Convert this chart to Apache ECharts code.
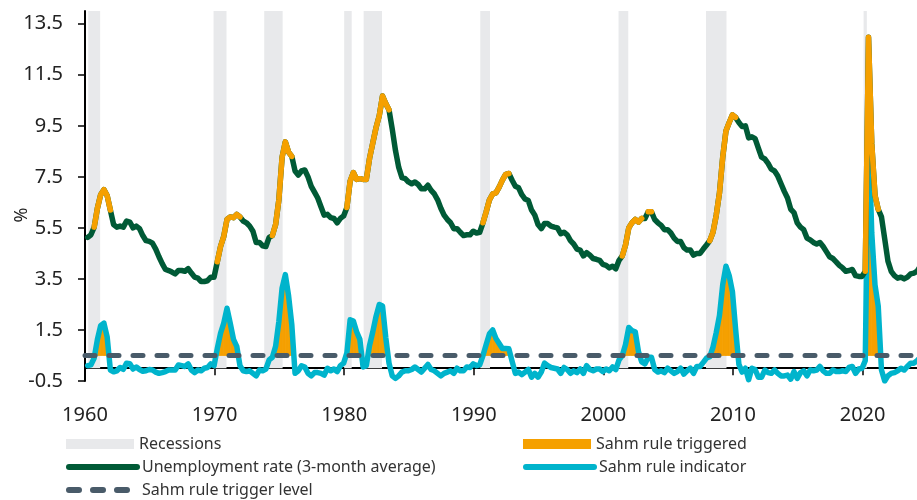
<!DOCTYPE html>
<html>
<head>
<meta charset="utf-8">
<script src="https://cdn.jsdelivr.net/npm/echarts@6/dist/echarts.min.js"></script>
<style>
  html, body { margin: 0; padding: 0; background: #fff; }
  #chart { width: 917px; height: 500px; }
</style>
</head>
<body>
<div id="chart"></div>
<script>
// quarterly values, first point = 1960Q1 (3-month average at quarter end)
const startYear = 1960;

// unemployment rate, 3-month average (%)
const unemployment = [
  5.13, 5.23, 5.53, 6.27,   // 1960
  6.80, 7.00, 6.77, 6.20,   // 1961
  5.63, 5.53, 5.57, 5.53,
  5.77, 5.73, 5.50, 5.57,
  5.47, 5.20, 5.00, 4.97,
  4.90, 4.67, 4.37, 4.10,   // 1965
  3.87, 3.83, 3.77, 3.70,
  3.83, 3.83, 3.80, 3.90,
  3.73, 3.57, 3.53, 3.40,
  3.40, 3.43, 3.57, 3.57,
  4.17, 4.77, 5.17, 5.83,   // 1970
  5.93, 5.90, 6.03, 5.93,
  5.77, 5.70, 5.57, 5.37,
  4.93, 4.93, 4.80, 4.77,
  5.13, 5.20, 5.63, 6.60,
  8.27, 8.87, 8.47, 8.30,   // 1975
  7.73, 7.57, 7.73, 7.77,
  7.50, 7.13, 6.90, 6.67,
  6.33, 6.00, 6.03, 5.90,
  5.87, 5.70, 5.87, 5.97,
  6.30, 7.33, 7.67, 7.40,   // 1980
  7.43, 7.40, 7.40, 8.23,
  8.83, 9.43, 9.90, 10.67,
  10.37, 10.13, 9.37, 8.53,
  7.87, 7.47, 7.43, 7.30,
  7.23, 7.30, 7.20, 7.03,   // 1985
  7.03, 7.17, 6.97, 6.83,
  6.60, 6.27, 6.00, 5.83,
  5.70, 5.47, 5.47, 5.33,
  5.20, 5.23, 5.23, 5.37,
  5.30, 5.33, 5.70, 6.13,   // 1990
  6.60, 6.83, 6.87, 7.10,
  7.37, 7.60, 7.63, 7.37,
  7.13, 7.07, 6.80, 6.63,
  6.57, 6.20, 6.00, 5.63,
  5.47, 5.67, 5.67, 5.57,   // 1995
  5.53, 5.50, 5.27, 5.33,
  5.23, 5.00, 4.87, 4.67,
  4.63, 4.40, 4.53, 4.43,
  4.30, 4.27, 4.23, 4.07,
  4.03, 3.93, 4.00, 3.90,   // 2000
  4.23, 4.40, 4.83, 5.50,
  5.70, 5.83, 5.73, 5.87,
  5.87, 6.13, 6.13, 5.83,
  5.70, 5.60, 5.43, 5.43,
  5.30, 5.10, 4.97, 4.97,   // 2005
  4.73, 4.63, 4.63, 4.43,
  4.50, 4.50, 4.67, 4.83,
  5.00, 5.33, 6.00, 6.87,
  8.27, 9.30, 9.63, 9.93,
  9.83, 9.63, 9.47, 9.50,   // 2010
  9.03, 9.07, 9.00, 8.63,
  8.27, 8.20, 8.03, 7.80,
  7.73, 7.53, 7.23, 6.93,
  6.67, 6.23, 6.10, 5.70,
  5.53, 5.43, 5.10, 5.03,   // 2015
  4.93, 4.87, 4.93, 4.77,
  4.57, 4.37, 4.30, 4.17,
  4.03, 3.93, 3.80, 3.83,
  3.87, 3.63, 3.60, 3.60,
  3.80, 12.97, 8.80, 6.77,  // 2020
  6.23, 5.93, 5.07, 4.20,
  3.80, 3.63, 3.53, 3.57,
  3.50, 3.57, 3.70, 3.73,
  3.80, 4.00                // 2024
];

// Sahm rule indicator (pp)
const sahm = [
  0.10, 0.13, 0.40, 1.13,   // 1960
  1.67, 1.77, 1.23, -0.07,
  -0.14, -0.10, 0.03, -0.04,
  0.20, 0.18, -0.03, 0.05,
  -0.05, -0.12, -0.10, -0.05,
  -0.07, -0.15, -0.20, -0.17, // 1965
  -0.13, -0.07, -0.07, -0.07,
  0.13, 0.10, 0.07, 0.17,
  -0.07, -0.17, -0.07, -0.10,
  0.00, 0.03, 0.17, 0.10,
  0.77, 1.37, 1.77, 2.35,   // 1970
  1.76, 1.13, 0.86, 0.10,
  -0.10, -0.13, -0.10, -0.20,
  -0.30, -0.07, -0.10, -0.03,
  0.33, 0.43, 0.86, 1.83,
  3.14, 3.67, 2.84, 1.70,   // 1975
  -0.20, -0.10, 0.10, 0.05,
  -0.20, -0.30, -0.17, -0.17,
  -0.20, -0.27, 0.00, -0.10,
  -0.03, -0.13, 0.10, 0.20,
  0.60, 1.90, 1.85, 1.43,   // 1980
  1.13, 0.05, 0.10, 0.90,
  1.43, 2.03, 2.50, 2.44,
  1.20, 0.20, -0.30, -0.40,
  -0.30, -0.15, -0.10, -0.10,
  -0.05, 0.05, -0.05, -0.15, // 1985
  0.00, 0.15, -0.05, -0.10,
  -0.20, -0.30, -0.20, -0.15,
  -0.10, -0.20, 0.00, -0.10,
  -0.10, 0.05, 0.03, 0.17,
  0.10, 0.13, 0.50, 0.93,   // 1990
  1.35, 1.50, 1.17, 0.97,
  0.77, 0.77, 0.76, 0.27,
  -0.20, -0.15, -0.25, -0.15,
  -0.05, -0.35, -0.20, -0.35,
  -0.15, 0.20, 0.10, 0.03,  // 1995
  0.00, -0.03, -0.20, 0.03,
  -0.05, -0.20, -0.10, -0.17,
  -0.03, -0.20, 0.10, -0.05,
  -0.10, -0.03, -0.03, -0.13,
  -0.03, -0.10, 0.05, -0.05, // 2000
  0.33, 0.50, 0.93, 1.60,
  1.47, 1.43, 0.65, 0.25,
  0.17, 0.43, 0.43, -0.05,
  -0.15, -0.10, -0.17, 0.00,
  -0.10, -0.20, -0.13, 0.00, // 2005
  -0.23, -0.10, 0.00, -0.20,
  0.07, 0.07, 0.23, 0.40,
  0.45, 0.83, 1.40, 2.07,
  3.27, 4.00, 3.63, 3.00,
  1.50, 0.15, -0.15, 0.00,  // 2010
  -0.45, 0.00, -0.05, -0.35,
  -0.35, -0.07, -0.17, -0.20,
  -0.07, -0.20, -0.30, -0.30,
  -0.27, -0.43, -0.13, -0.40,
  -0.17, -0.10, -0.30, -0.07, // 2015
  -0.10, -0.07, 0.07, -0.10,
  -0.20, -0.20, -0.07, -0.13,
  -0.13, -0.10, -0.13, 0.03,
  0.07, -0.20, -0.03, 0.00,
  0.30, 9.47, 5.30, 3.27,   // 2020
  2.43, -0.07, -0.50, -0.30,
  -0.20, -0.17, -0.10, 0.00,
  -0.07, 0.07, 0.20, 0.20,
  0.30, 0.43                // 2024
];

const triggerLevel = 0.5;

// NBER recessions, decimal years
const recessions = [
  [1960.25, 1961.17], [1969.92, 1970.92], [1973.83, 1975.25],
  [1980.0, 1980.58], [1981.5, 1982.92], [1990.5, 1991.25],
  [2001.17, 2001.92], [2007.92, 2009.5], [2020.08, 2020.33]
];

// quarters where the unemployment line is drawn orange
const triggeredPeriods = [
  ['1960Q3', '1961Q4'], ['1970Q1', '1971Q4'], ['1974Q2', '1975Q4'],
  ['1980Q1', '1981Q2'], ['1981Q3', '1983Q2'], ['1990Q3', '1992Q3'],
  ['2001Q2', '2002Q4'], ['2003Q2', '2003Q3'], ['2008Q1', '2010Q1'],
  ['2020Q1', '2021Q1']
];

const xTicks = [1960, 1970, 1980, 1990, 2000, 2010, 2020];
const yTicks = [-0.5, 1.5, 3.5, 5.5, 7.5, 9.5, 11.5, 13.5];
const xMin = 1960, xMax = 2024.2;

const GREEN = '#005A36', CYAN = '#00B4CC', ORANGE = '#F5A000',
      SLATE = '#495B69', BAND = '#E8E9EB';
const FONT = 'Noto Sans';

const quarterTime = i => startYear + Math.floor(i / 4) + ((i % 4) * 3 + 2.5) / 12;
const qIndex = s => (parseInt(s.slice(0, 4)) - startYear) * 4 + parseInt(s.slice(5)) - 1;

const xs = unemployment.map((_, i) => quarterTime(i));
const urData = unemployment.map((v, i) => [xs[i], v]);
const sahmData = sahm.map((v, i) => [xs[i], v]);

const trigRate = [];
triggeredPeriods.forEach(([a, b]) => {
  for (let i = qIndex(a); i <= qIndex(b); i++) trigRate.push([xs[i], unemployment[i]]);
  trigRate.push([xs[qIndex(b)], '-']);
});

// orange fill between the indicator and the trigger level
function renderTriggered(params, api) {
  const i = params.dataIndex;
  if (i >= sahm.length - 1) return;
  const L = triggerLevel, a = sahm[i], b = sahm[i + 1];
  const x0 = xs[i], x1 = xs[i + 1];
  let pts;
  if (a > L && b > L) {
    pts = [[x0, a], [x1, b], [x1, L], [x0, L]];
  } else if (a > L) {
    const xc = x0 + (a - L) / (a - b) * (x1 - x0);
    pts = [[x0, a], [xc, L], [x0, L]];
  } else if (b > L) {
    const xc = x0 + (L - a) / (b - a) * (x1 - x0);
    pts = [[xc, L], [x1, b], [x1, L]];
  } else {
    return;
  }
  return {
    type: 'polygon',
    shape: { points: pts.map(p => api.coord(p)) },
    style: { fill: ORANGE, stroke: ORANGE, lineWidth: 0.8 }
  };
}

const chart = echarts.init(document.getElementById('chart'), null, { renderer: 'canvas' });

const legendText = { fontFamily: FONT, fontSize: 16, color: '#333', lineHeight: 16 };
const legendRow = (left, top, name, isRect) => ({
  orient: 'horizontal', left: left, top: top, padding: 0, itemWidth: 68, itemHeight: 10,
  selectedMode: false, textStyle: legendText,
  lineStyle: { width: 6 },
  itemStyle: isRect ? {} : { opacity: 0 },
  data: [isRect ? { name: name, icon: 'rect' } : { name: name }]
});

chart.setOption({
  animation: false,
  backgroundColor: '#fff',
  grid: { left: 85, right: 0, top: 11, bottom: 119, containLabel: false },
  legend: [
    legendRow(66, 436, 'Recessions', true),
    legendRow(66, 459, 'Unemployment rate (3-month average)', false),
    legendRow(66, 482, 'Sahm rule trigger level', false),
    legendRow(523, 436, 'Sahm rule triggered', true),
    legendRow(523, 459, 'Sahm rule indicator', false)
  ],
  graphic: [{
    type: 'text', x: 22, y: 215, rotation: Math.PI / 2,
    style: { text: '%', font: '18px "Noto Sans"', fill: '#222', align: 'center', verticalAlign: 'middle' }
  }],
  xAxis: {
    type: 'value', min: xMin, max: xMax,
    axisLine: { onZero: true, lineStyle: { color: '#000', width: 2 } },
    axisTick: { show: true, customValues: xTicks, length: 7, lineStyle: { color: '#000', width: 1.5 } },
    axisLabel: {
      customValues: xTicks, margin: 24, fontSize: 20, fontFamily: FONT, color: '#222',
      formatter: v => String(v)
    },
    splitLine: { show: false }
  },
  yAxis: {
    type: 'value', min: -0.5, max: 14,
    axisLine: { show: true, onZero: false, lineStyle: { color: '#000', width: 2 } },
    axisTick: { show: true, customValues: yTicks, length: 7, lineStyle: { color: '#000', width: 1.5 } },
    axisLabel: { customValues: yTicks, margin: 22, fontSize: 20, fontFamily: FONT, color: '#222' },
    splitLine: { show: false }
  },
  series: [
    {
      name: 'Recessions', type: 'line', data: [], z: 1, silent: true,
      itemStyle: { color: BAND },
      markArea: {
        silent: true,
        itemStyle: { color: BAND },
        data: recessions.map(([s, e]) => [{ xAxis: s, yAxis: 0 }, { xAxis: e, yAxis: 14 }])
      }
    },
    {
      name: 'Sahm rule triggered', type: 'custom', data: sahmData, z: 2, silent: true,
      clip: true, encode: { x: 0, y: 1 },
      itemStyle: { color: ORANGE },
      renderItem: renderTriggered
    },
    {
      name: 'Sahm rule indicator', type: 'line', data: sahmData, symbol: 'none', z: 3,
      itemStyle: { color: CYAN },
      lineStyle: { color: CYAN, width: 5.5, cap: 'round', join: 'round' }
    },
    {
      name: 'Sahm rule trigger level', type: 'line', symbol: 'none', z: 4,
      data: [[xMin, triggerLevel], [xMax, triggerLevel]],
      itemStyle: { color: SLATE },
      lineStyle: { color: SLATE, width: 5, type: [10, 14], cap: 'round' }
    },
    {
      name: 'Unemployment rate (3-month average)', type: 'line', data: urData, symbol: 'none', z: 5,
      itemStyle: { color: GREEN },
      lineStyle: { color: GREEN, width: 5.5, cap: 'round', join: 'round' }
    },
    {
      name: 'triggered rate', type: 'line', data: trigRate, symbol: 'none', z: 6,
      connectNulls: false, itemStyle: { color: ORANGE },
      lineStyle: { color: ORANGE, width: 5.5, cap: 'round', join: 'round' }
    }
  ]
});
</script>
</body>
</html>
